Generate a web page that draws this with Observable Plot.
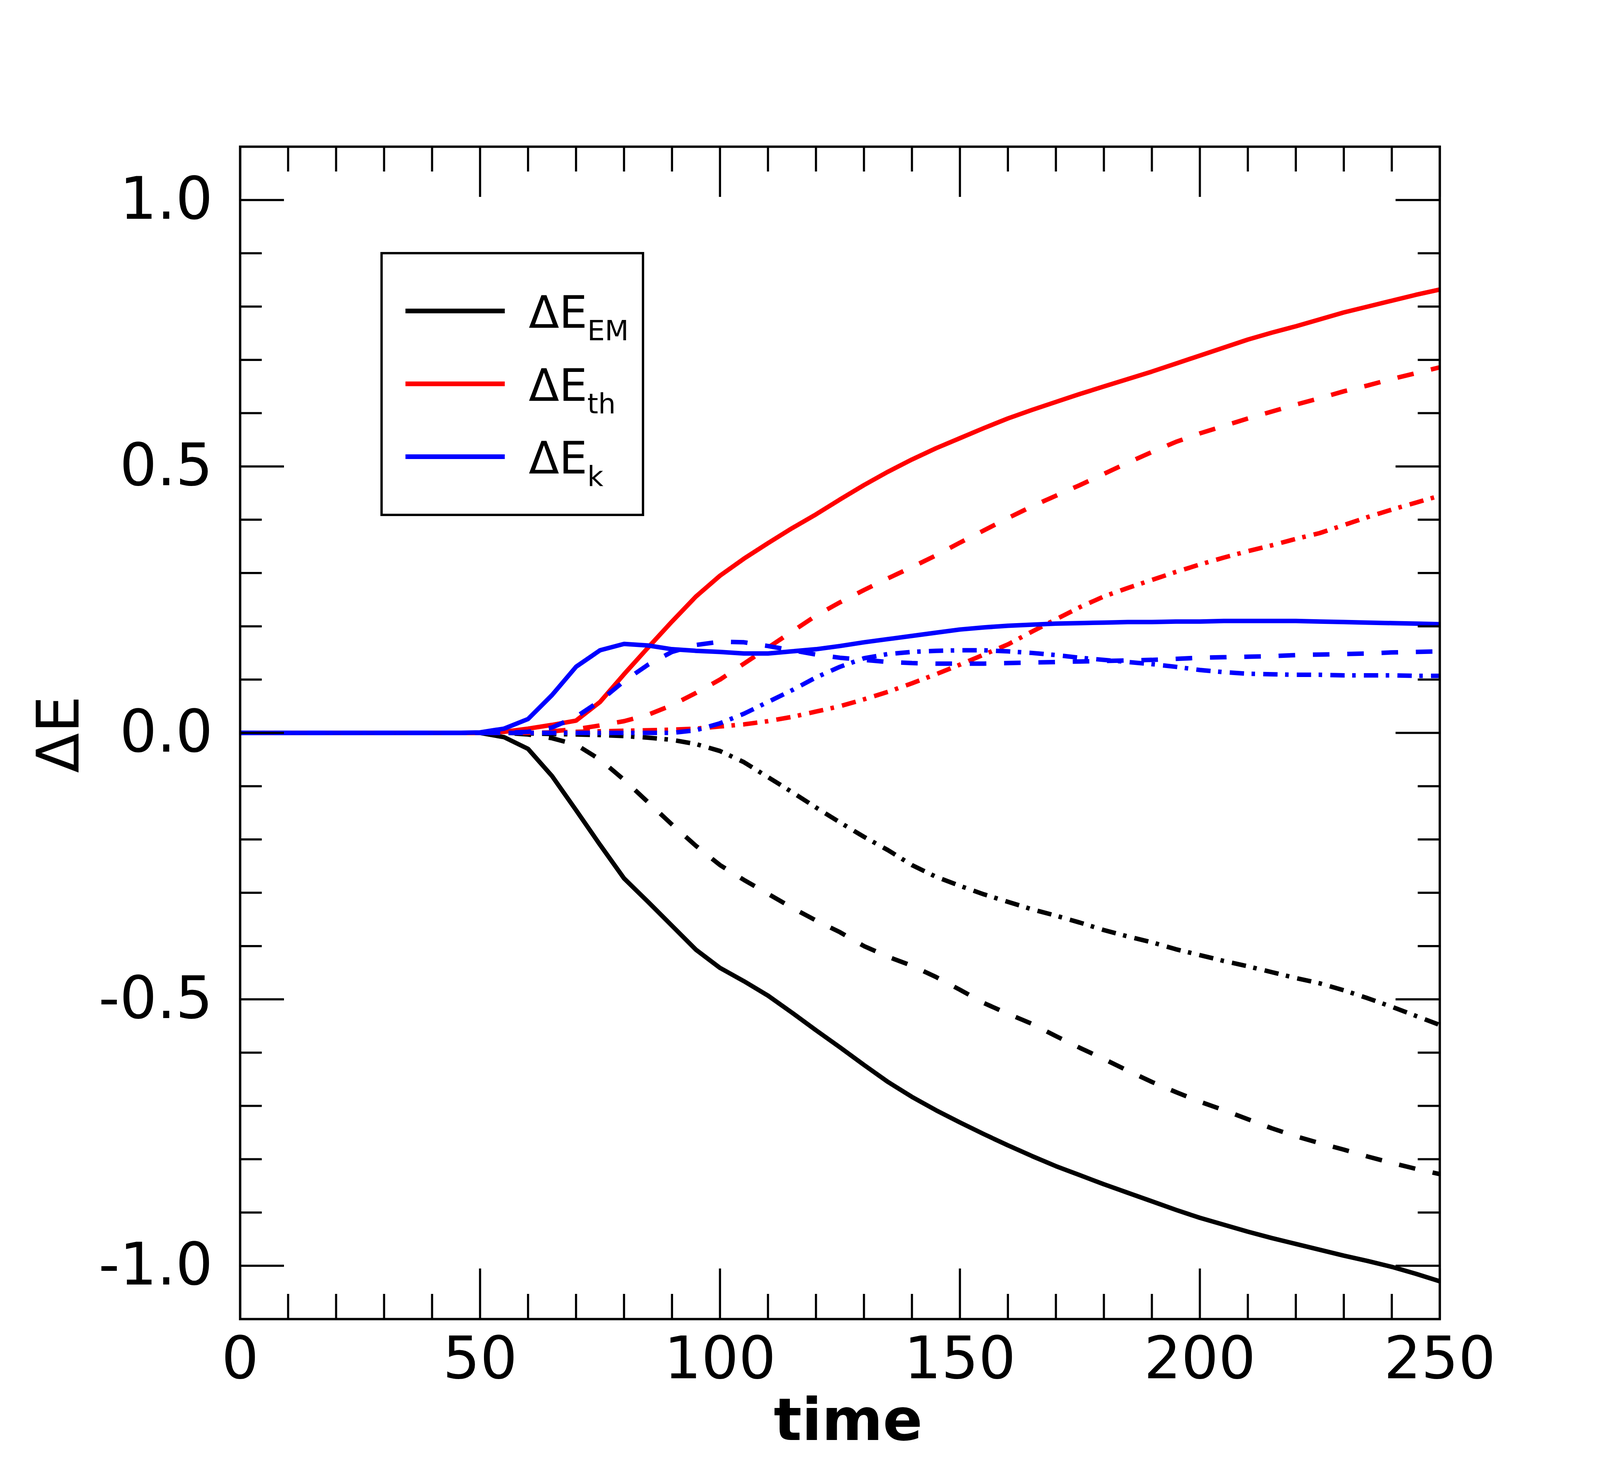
<!DOCTYPE html>
<html>
<head>
<meta charset="utf-8">
<script src="https://cdn.jsdelivr.net/npm/d3@7"></script>
<script src="https://cdn.jsdelivr.net/npm/@observablehq/plot@0.6"></script>
<style>
  html, body { margin: 0; padding: 0; background: white; overflow: hidden; }
  #chart { line-height: 0; }
  #chart svg { display: block; }
</style>
</head>
<body>
<div id="chart"></div>
<script>
// ---- data ----
const time = [0,5,10,15,20,25,30,35,40,45,50,55,60,65,70,75,80,85,90,95,100,105,110,115,120,125,130,135,140,145,150,155,160,165,170,175,180,185,190,195,200,205,210,215,220,225,230,235,240,245,250];

const emSolid = [0,0,0,0,0,0,0,0,0,0,0,-0.008,-0.03,-0.081,-0.145,-0.21,-0.273,-0.317,-0.362,-0.407,-0.441,-0.466,-0.493,-0.525,-0.558,-0.59,-0.623,-0.655,-0.683,-0.708,-0.731,-0.753,-0.774,-0.794,-0.813,-0.83,-0.847,-0.863,-0.879,-0.895,-0.91,-0.923,-0.936,-0.948,-0.959,-0.97,-0.981,-0.991,-1.002,-1.015,-1.029];
const emDashed = [0,0,0,0,0,0,0,0,0,0,0,0,-0.003,-0.01,-0.022,-0.05,-0.088,-0.13,-0.172,-0.212,-0.248,-0.276,-0.302,-0.328,-0.352,-0.374,-0.4,-0.42,-0.437,-0.458,-0.482,-0.507,-0.527,-0.546,-0.569,-0.591,-0.612,-0.634,-0.655,-0.674,-0.692,-0.708,-0.725,-0.742,-0.757,-0.77,-0.782,-0.795,-0.807,-0.818,-0.828];
const emDashDot = [0,0,0,0,0,0,0,0,0,0,0,0,-0.001,-0.002,-0.003,-0.004,-0.006,-0.009,-0.013,-0.021,-0.034,-0.055,-0.083,-0.111,-0.14,-0.168,-0.195,-0.22,-0.248,-0.27,-0.287,-0.303,-0.317,-0.331,-0.343,-0.356,-0.37,-0.382,-0.393,-0.406,-0.417,-0.428,-0.438,-0.449,-0.46,-0.47,-0.483,-0.498,-0.514,-0.531,-0.548];

const thSolid = [0,0,0,0,0,0,0,0,0,0,0,0.002,0.008,0.015,0.023,0.058,0.11,0.16,0.209,0.256,0.295,0.327,0.356,0.384,0.41,0.438,0.465,0.49,0.513,0.534,0.553,0.572,0.59,0.606,0.621,0.636,0.65,0.664,0.678,0.693,0.708,0.723,0.738,0.751,0.763,0.776,0.789,0.8,0.811,0.822,0.832];
const thDashed = [0,0,0,0,0,0,0,0,0,0,0,0,0,0.003,0.007,0.014,0.022,0.034,0.052,0.075,0.1,0.13,0.16,0.19,0.22,0.245,0.268,0.29,0.311,0.333,0.357,0.38,0.403,0.425,0.445,0.465,0.486,0.507,0.527,0.546,0.562,0.576,0.59,0.603,0.616,0.628,0.641,0.652,0.664,0.675,0.686];
const thDashDot = [0,0,0,0,0,0,0,0,0,0,0,0,0,0.001,0.002,0.003,0.004,0.005,0.006,0.008,0.012,0.016,0.022,0.03,0.04,0.05,0.063,0.077,0.093,0.11,0.128,0.147,0.166,0.19,0.213,0.236,0.256,0.272,0.287,0.302,0.316,0.329,0.341,0.352,0.364,0.375,0.39,0.405,0.419,0.432,0.445];

const kSolid = [0,0,0,0,0,0,0,0,0,0,0.001,0.008,0.026,0.071,0.124,0.155,0.167,0.164,0.157,0.154,0.152,0.149,0.149,0.153,0.157,0.163,0.17,0.176,0.182,0.188,0.194,0.198,0.201,0.203,0.205,0.206,0.207,0.208,0.208,0.209,0.209,0.21,0.21,0.21,0.21,0.209,0.208,0.207,0.206,0.205,0.204];
const kDashed = [0,0,0,0,0,0,0,0,0,0,0,0,0.002,0.01,0.03,0.06,0.097,0.128,0.152,0.165,0.171,0.17,0.163,0.155,0.147,0.141,0.137,0.133,0.131,0.13,0.13,0.13,0.131,0.132,0.133,0.134,0.135,0.136,0.137,0.139,0.141,0.142,0.143,0.144,0.146,0.147,0.148,0.149,0.151,0.152,0.153];
const kDashDot = [0,0,0,0,0,0,0,0,0,0,0,0,0,0,0,0,0,0,0,0.005,0.018,0.036,0.058,0.08,0.104,0.124,0.14,0.148,0.152,0.154,0.155,0.155,0.153,0.15,0.146,0.141,0.137,0.133,0.129,0.124,0.118,0.114,0.111,0.11,0.109,0.109,0.108,0.108,0.108,0.107,0.107];

const xMajor = [0, 50, 100, 150, 200, 250];
const xMinor = [10,20,30,40,60,70,80,90,110,120,130,140,160,170,180,190,210,220,230,240];
const yMajor = [-1.0, -0.5, 0.0, 0.5, 1.0];
const yMinor = [-0.9,-0.8,-0.7,-0.6,-0.4,-0.3,-0.2,-0.1,0.1,0.2,0.3,0.4,0.6,0.7,0.8,0.9];

const legendLabels = [["ΔE", "EM"], ["ΔE", "th"], ["ΔE", "k"]];
const seriesColors = ["#000000", "#ff0000", "#0000ff"];

// ---- layout (reference is 4688 x 3750; the window may be narrower) ----
const W = Math.min(window.innerWidth || 4688, 4688);
const H = 3750;
const k = W / 4688;               // horizontal scale relative to the reference
const mL = 703 * k, mR = 470 * k, mT = 375, mB = 374;
const plotW = W - mL - mR, plotH = H - mT - mB;
const xTickMajor = 129, xTickMinor = 64;          // vertical ticks on x axis
const yTickMajor = 129 * k, yTickMinor = 64 * k;  // horizontal ticks on y axis
const lw = 11.5;
const dashed = `${44 * k + 4},${52 * k}`;
const dashDot = `${42 * k},${22 * k},${9},${24 * k}`;

const toRows = vals => time.map((t, i) => ({t, v: vals[i]}));

const lineMark = (vals, color, dash) =>
  Plot.line(toRows(vals), {x: "t", y: "v", stroke: color, strokeWidth: lw,
    strokeDasharray: dash, strokeLinejoin: "miter", strokeLinecap: "butt"});

const tickStroke = {stroke: "black", strokeWidth: 5.5};

const chart = Plot.plot({
  width: W, height: H,
  marginLeft: mL, marginRight: mR, marginTop: mT, marginBottom: mB,
  style: {fontFamily: "DejaVu Sans", fontSize: "150px", background: "white", color: "black"},
  x: {domain: [0, 250]},
  y: {domain: [-1.1, 1.1]},
  marks: [
    // lines
    lineMark(emDashDot, seriesColors[0], dashDot),
    lineMark(emDashed, seriesColors[0], dashed),
    lineMark(emSolid, seriesColors[0], null),
    lineMark(thDashDot, seriesColors[1], dashDot),
    lineMark(thDashed, seriesColors[1], dashed),
    lineMark(thSolid, seriesColors[1], null),
    lineMark(kDashDot, seriesColors[2], dashDot),
    lineMark(kDashed, seriesColors[2], dashed),
    lineMark(kSolid, seriesColors[2], null),
    // inward ticks: bottom and top
    Plot.ruleX(xMajor, {x: d => d, insetTop: plotH - xTickMajor, ...tickStroke}),
    Plot.ruleX(xMinor, {x: d => d, insetTop: plotH - xTickMinor, ...tickStroke}),
    Plot.ruleX(xMajor, {x: d => d, insetBottom: plotH - xTickMajor, ...tickStroke}),
    Plot.ruleX(xMinor, {x: d => d, insetBottom: plotH - xTickMinor, ...tickStroke}),
    // inward ticks: left and right
    Plot.ruleY(yMajor, {y: d => d, insetRight: plotW - yTickMajor, ...tickStroke}),
    Plot.ruleY(yMinor, {y: d => d, insetRight: plotW - yTickMinor, ...tickStroke}),
    Plot.ruleY(yMajor, {y: d => d, insetLeft: plotW - yTickMajor, ...tickStroke}),
    Plot.ruleY(yMinor, {y: d => d, insetLeft: plotW - yTickMinor, ...tickStroke}),
    Plot.frame({stroke: "black", strokeWidth: 6}),
    // tick labels
    Plot.axisX(xMajor, {anchor: "bottom", tickSize: 0, tickPadding: 45, fontSize: 150, tickFormat: d => String(d), label: null}),
    Plot.axisY(yMajor, {anchor: "left", tickSize: 0, tickPadding: 80 * k, fontSize: 150, tickFormat: d => d.toFixed(1), label: null}),
    // axis titles
    Plot.text(["time"], {text: d => d, frameAnchor: "bottom", dx: 24 * k, dy: 261, textAnchor: "middle", lineAnchor: "middle", fontSize: 150, fontWeight: "bold"}),
    Plot.text(["ΔE"], {text: d => d, frameAnchor: "left", dx: -528 * k, dy: 4, rotate: -90, textAnchor: "middle", lineAnchor: "middle", fontSize: 150})
  ]
});

// ---- legend (drawn on top of the plot svg) ----
const svg = d3.select(chart);
const lg = svg.append("g").attr("class", "legend");
lg.append("rect")
  .attr("x", 1118 * k).attr("y", 648).attr("width", 766 * k).attr("height", 670)
  .attr("fill", "white").attr("stroke", "black").attr("stroke-width", 6);
legendLabels.forEach((lab, i) => {
  const yc = 796 + i * 186.5;
  lg.append("line")
    .attr("x1", 1188 * k).attr("x2", 1479 * k).attr("y1", yc).attr("y2", yc)
    .attr("stroke", seriesColors[i]).attr("stroke-width", 12);
  const t = lg.append("text")
    .attr("x", 1549 * k).attr("y", yc + 43)
    .attr("text-anchor", "start")
    .attr("font-family", "DejaVu Sans").attr("font-size", 114).attr("fill", "black");
  t.append("tspan").text(lab[0]);
  t.append("tspan").attr("font-size", 71).attr("dx", 0).attr("dy", 32).text(lab[1]);
});

document.getElementById("chart").appendChild(chart);
</script>
</body>
</html>
